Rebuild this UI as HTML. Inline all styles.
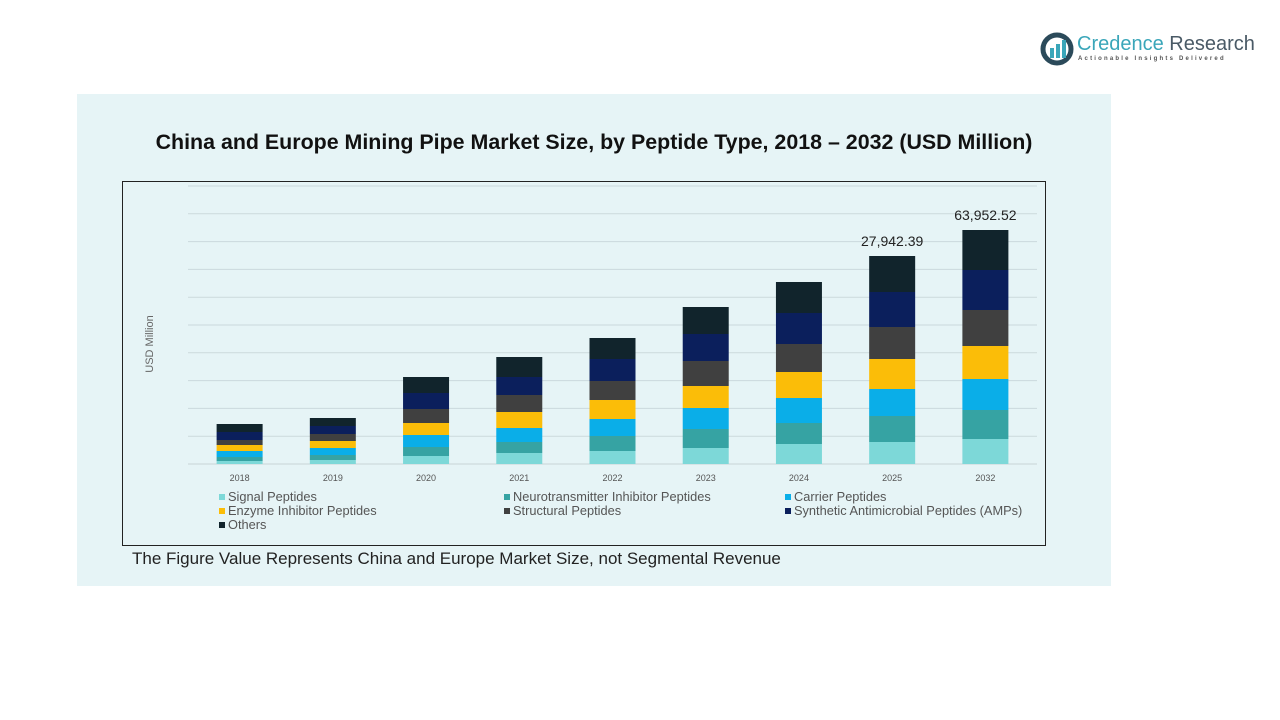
<!DOCTYPE html>
<html><head><meta charset="utf-8"><style>
body{margin:0;width:1280px;height:720px;background:#fff;font-family:"Liberation Sans",sans-serif;position:relative;overflow:hidden}
.abs{position:absolute}
</style></head><body>
<div class="abs" style="left:1040px;top:32px;width:220px;height:36px">
 <svg width="34" height="34" style="position:absolute;left:0;top:0"><circle cx="17" cy="17" r="14" fill="none" stroke="#2b4a5a" stroke-width="5"/><rect x="10" y="16" width="4" height="10" fill="#3aa6b9"/><rect x="16" y="12" width="4" height="14" fill="#3aa6b9"/><rect x="22" y="8" width="4" height="18" fill="#3aa6b9"/></svg>
 <div class="abs" style="left:37px;top:1px;font-size:20px;color:#3aa6b9;white-space:nowrap">Credence <span style="color:#4a5a66">Research</span></div>
 <div class="abs" style="left:38px;top:24px;font-size:6px;letter-spacing:2.2px;color:#555;white-space:nowrap;font-weight:bold">Actionable Insights Delivered</div>
</div>
<div class="abs" style="left:77px;top:94px;width:1034px;height:492px;background:#e6f4f6"></div>
<div class="abs" style="left:77px;top:130px;width:1034px;text-align:center;font-size:21.4px;font-weight:bold;color:#111;white-space:nowrap">China and Europe Mining Pipe Market Size, by Peptide Type, 2018 – 2032 (USD Million)</div>
<div class="abs" style="left:122px;top:181px;width:922px;height:363px;border:1px solid #222"></div>
<div class="abs" style="left:110px;top:338px;width:80px;text-align:center;font-size:11px;color:#666;transform:rotate(-90deg)">USD Million</div>
<svg class="abs" id="chart" style="left:0;top:0" width="1280" height="720"></svg>
<div class="abs" style="left:132px;top:549px;font-size:17px;color:#222;white-space:nowrap">The Figure Value Represents China and Europe Market Size, not Segmental Revenue</div>
<script>
const categories=["2018","2019","2020","2021","2022","2023","2024","2025","2032"];
const seriesNames=["Signal Peptides","Neurotransmitter Inhibitor Peptides","Carrier Peptides","Enzyme Inhibitor Peptides","Structural Peptides","Synthetic Antimicrobial Peptides (AMPs)","Others"];
const signal=[3,4,8,11,13,16,20,22,25];
const neuro=[4,5,9,11,15,19,21,26,29];
const carrier=[6,7,12,14,17,21,25,27,31];
const enzyme=[6,7,12,16,19,22,26,30,33];
const structural=[5,7,14,17,19,25,28,32,36];
const amps=[8,8,16,18,22,27,31,35,40];
const others=[8,8,16,20,21,27,31,36,40];
const valueLabels=["","","","","","","","27,942.39","63,952.52"];
const gridStep=27.8;
const series=[signal,neuro,carrier,enzyme,structural,amps,others];
const colors=["#7dd8d8","#36a3a3","#0aaee8","#fbbd08","#404040","#0b1f5c","#11242c"];
const NS="http://www.w3.org/2000/svg";
const svg=document.getElementById('chart');
const x0=193,x1=1032,base=464,yScale=1,barW=46;
const band=(x1-x0)/categories.length;
const xPos=i=>x0+band*(i+0.5);
const yPos=v=>base-v*yScale;
function mk(t,a){const e=document.createElementNS(NS,t);for(const k in a)e.setAttribute(k,a[k]);svg.appendChild(e);return e;}
for(let g=1;g*gridStep<=280;g++){const y=yPos(g*gridStep);if(y<186)break;
 const l=mk('line',{x1:x0-5,x2:x1+5,y1:y,y2:y,stroke:'#cbd9dc','stroke-width':1});
 
 }
const ax=mk('line',{x1:x0-5,x2:x1+5,y1:base,y2:base,stroke:'#c8d4d6','stroke-width':1});


categories.forEach((c,i)=>{let cum=0;
 series.forEach((s,k)=>{const v=s[i];
  const r=mk('rect',{x:xPos(i)-barW/2,y:yPos(cum+v),width:barW,height:v*yScale,fill:colors[k]});
  
  
  cum+=v;});
 const t=mk('text',{x:xPos(i),y:481,'text-anchor':'middle','font-size':9,fill:'#555'});t.textContent=c;
 
 
 if(valueLabels[i]){const vl=mk('text',{x:xPos(i),y:yPos(cum)-10,'text-anchor':'middle','font-size':14,fill:'#222'});vl.textContent=valueLabels[i];
  
  }
});
const lx=[219,504,785],ly=[497,511,525];
seriesNames.forEach((n,k)=>{const cx=lx[k%3],cy=ly[Math.floor(k/3)];
 const r=mk('rect',{x:cx,y:cy-3,width:6,height:6,fill:colors[k]});
 
 
 const t=mk('text',{x:cx+9,y:cy+4,'font-size':12.8,fill:'#555'});t.textContent=n;
 
 });
</script>
</body></html>
